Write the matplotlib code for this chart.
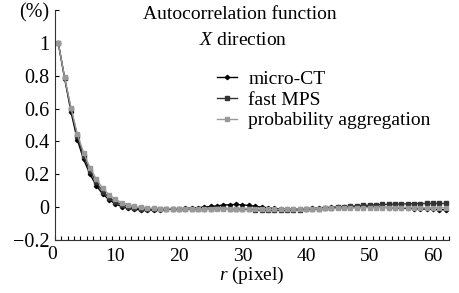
import numpy as np
import matplotlib
matplotlib.use('Agg')
import matplotlib.pyplot as plt

# lag r in pixels
r = np.arange(1, 63)

micro_ct = [1.0, 0.785, 0.58, 0.41, 0.29, 0.20, 0.13, 0.08, 0.045, 0.02,
            0.003, -0.007, -0.013, -0.017, -0.018, -0.018, -0.016, -0.014, -0.012, -0.010,
            -0.008, -0.006, -0.003, 0.0, 0.004, 0.008, 0.012, 0.015, 0.016, 0.014,
            0.010, 0.005, 0.0, -0.004, -0.008, -0.011, -0.013, -0.013, -0.012, -0.010,
            -0.008, -0.006, -0.004, -0.002, 0.0, 0.001, 0.002, 0.002, 0.002, 0.001,
            0.0, -0.001, -0.003, -0.004, -0.006, -0.008, -0.009, -0.011, -0.012, -0.014,
            -0.015, -0.016]

fast_mps = [1.0, 0.785, 0.60, 0.43, 0.31, 0.22, 0.15, 0.095, 0.058, 0.032,
            0.015, 0.003, -0.005, -0.010, -0.013, -0.014, -0.014, -0.013, -0.012, -0.012,
            -0.012, -0.012, -0.011, -0.010, -0.009, -0.008, -0.008, -0.009, -0.010, -0.012,
            -0.014, -0.016, -0.018, -0.019, -0.020, -0.020, -0.019, -0.018, -0.016, -0.014,
            -0.012, -0.010, -0.007, -0.004, -0.001, 0.002, 0.005, 0.008, 0.010, 0.012,
            0.014, 0.016, 0.017, 0.018, 0.019, 0.020, 0.021, 0.021, 0.022, 0.022,
            0.022, 0.022]

prob_agg = [1.0, 0.79, 0.605, 0.445, 0.33, 0.24, 0.17, 0.115, 0.075, 0.047,
            0.027, 0.013, 0.004, -0.002, -0.006, -0.008, -0.009, -0.010, -0.010, -0.010,
            -0.010, -0.010, -0.010, -0.010, -0.010, -0.010, -0.010, -0.010, -0.010, -0.010,
            -0.011, -0.012, -0.013, -0.014, -0.014, -0.014, -0.013, -0.012, -0.011, -0.010,
            -0.009, -0.009, -0.008, -0.008, -0.007, -0.006, -0.005, -0.004, -0.004, -0.003,
            -0.003, -0.003, -0.003, -0.003, -0.003, -0.003, -0.004, -0.004, -0.004, -0.004,
            -0.004, -0.004]

y_ticks = [-0.2, 0, 0.2, 0.4, 0.6, 0.8, 1, 1.2]
y_labels = ['\u22120.2', '0', '0.2', '0.4', '0.6', '0.8', '1', '(%)']
x_labels = [10, 20, 30, 40, 50, 60]

plt.rcParams['font.family'] = ['Liberation Serif', 'DejaVu Serif']
plt.rcParams['mathtext.fontset'] = 'custom'
plt.rcParams['mathtext.it'] = 'Liberation Serif:italic'
plt.rcParams['mathtext.rm'] = 'Liberation Serif'

fig = plt.figure(figsize=(4.59, 2.93), dpi=100)
ax = fig.add_axes([0.12, 0.181, 0.858, 0.785])

ax.plot(r, micro_ct, color='black', lw=1, marker='D', ms=2.2, label='micro-CT')
ax.plot(r, fast_mps, color='#333333', lw=1, marker='s', ms=3.5, label='fast MPS')
ax.plot(r, prob_agg, color='#999999', lw=1, marker='s', ms=3.5,
        label='probability aggregation')

ax.set_xlim(0.5, 62.5)
ax.set_ylim(-0.2, 1.2)
ax.spines['top'].set_visible(False)
ax.spines['right'].set_visible(False)
for s in ['left', 'bottom']:
    ax.spines[s].set_color('#333333')
    ax.spines[s].set_linewidth(0.8)

ax.set_yticks(y_ticks)
ax.set_yticklabels(y_labels, fontsize=14.5)
ax.tick_params(axis='y', direction='in', length=3, width=0.8, pad=4)

ax.set_xticks(x_labels)
ax.set_xticklabels([str(v) for v in x_labels], fontsize=14)
ax.set_xticks(np.arange(0.5, 63, 1), minor=True)
ax.tick_params(axis='x', which='major', length=0, pad=6)
ax.tick_params(axis='x', which='minor', direction='in', length=3, width=0.8)
# the 0 label sits just left of the axis start
ax.text(0.1, -0.025, '0', transform=ax.get_xaxis_transform(), ha='center', va='top',
        fontsize=14, clip_on=False)

ax.set_xlabel('$r$ (pixel)', fontsize=14, labelpad=0)

fig.text(0.523, 0.949, 'Autocorrelation function', ha='center', va='center', fontsize=14)
fig.text(0.529, 0.863, '$X$ direction', ha='center', va='center', fontsize=14)

ax.legend(loc='upper left', bbox_to_anchor=(0.452, 0.792), bbox_transform=fig.transFigure,
          frameon=False, handlelength=1.0, handletextpad=0.6, labelspacing=0.15,
          fontsize=14, borderpad=0)

fig.savefig('out.png', dpi=100)
